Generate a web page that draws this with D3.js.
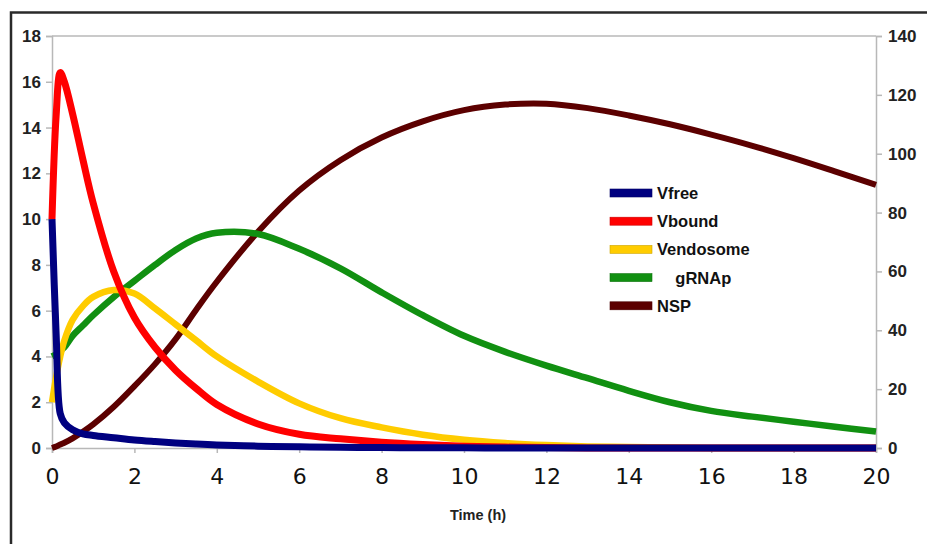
<html>
<head>
  <meta charset="utf-8">
  <script src="https://d3js.org/d3.v7.min.js"></script>
  <style type="text/css">
    body {
      margin: 0;
      background-color: #fff;
    }
    .Axis path,
    .Axis line {
      fill: none;
      stroke: #b8b8b8;
      stroke-width: 1.5;
    }
    .y-left text,
    .y-right text {
      font-family: "Liberation Sans", Arial, sans-serif;
      font-size: 17px;
      font-weight: bold;
      fill: #222;
    }
    .x-axis text {
      font-family: "DejaVu Sans", sans-serif;
      font-size: 22px;
      fill: #111;
    }
    .axis-labels {
      font-family: "Liberation Sans", Arial, sans-serif;
      font-size: 14.5px;
      font-weight: bold;
      fill: #222;
      text-anchor: middle;
    }
    .legend text {
      font-family: "Liberation Sans", Arial, sans-serif;
      font-size: 16.5px;
      font-weight: bold;
      fill: #111;
      white-space: pre;
    }
  </style>
</head>
<body>
<script>
// hours
var time = [0, 0.1, 0.2, 0.3, 0.5, 0.75, 1, 1.5, 2, 2.5, 3, 3.5, 4, 5, 6, 7, 8, 9, 10, 11, 12, 13, 14, 15, 16, 17, 18, 19, 20];

// left axis series
var vfree     = [10, 5, 1.5, 1.1, 0.8, 0.62, 0.55, 0.45, 0.35, 0.28, 0.22, 0.17, 0.13, 0.08, 0.05, 0.03, 0.02, 0.01, 0.01, 0, 0, 0, 0, 0, 0, 0, 0, 0, 0];
var vbound    = [10, 14.5, 16.4, 16.0, 14.6, 12.6, 10.7, 7.7, 5.7, 4.4, 3.4, 2.6, 1.9, 1.05, 0.6, 0.4, 0.25, 0.15, 0.08, 0.04, 0.02, 0, 0, 0, 0, 0, 0, 0, 0];
var vendosome = [2, 3.1, 4.0, 4.7, 5.6, 6.2, 6.6, 6.9, 6.75, 6.1, 5.4, 4.7, 4.0, 2.9, 1.95, 1.3, 0.9, 0.58, 0.36, 0.22, 0.13, 0.07, 0.04, 0.02, 0, 0, 0, 0, 0];
var grnap     = [4.0, 4.1, 4.25, 4.4, 4.9, 5.35, 5.8, 6.6, 7.3, 8.0, 8.65, 9.15, 9.4, 9.35, 8.7, 7.85, 6.8, 5.8, 4.9, 4.2, 3.6, 3.05, 2.5, 2.0, 1.62, 1.37, 1.15, 0.93, 0.72];
// right axis series
var nsp       = [0, 0.5, 1.2, 1.8, 3.3, 5.5, 8, 14, 21, 28.5, 37, 47, 56.5, 73.5, 87.5, 97.8, 105.5, 111, 114.8, 116.7, 117, 115.5, 113, 110, 106.5, 102.7, 98.5, 94, 89.4];

var xTicks = [0, 2, 4, 6, 8, 10, 12, 14, 16, 18, 20];
var leftTicks = [0, 2, 4, 6, 8, 10, 12, 14, 16, 18];
var rightTicks = [0, 20, 40, 60, 80, 100, 120, 140];

var legendNames = ["Vfree", "Vbound", "Vendosome", "    gRNAp", "NSP"];
var colors = ["#000080", "#ff0000", "#ffcc00", "#119011", "#5c0000"];

var margin = {top: 36, right: 51, bottom: 96, left: 52};
var W = 927, H = 544;
var width = W - margin.left - margin.right,
    height = H - margin.top - margin.bottom;

var root = d3.select("body").append("svg")
    .attr("width", W)
    .attr("height", H);

// outer frame of the picture
root.append("rect")
    .attr("x", 11).attr("y", 12.5)
    .attr("width", W + 20).attr("height", H + 20)
    .attr("fill", "none")
    .attr("stroke", "#2a2a2a")
    .attr("stroke-width", 2.5);

var svg = root.append("g")
    .attr("transform", "translate(" + margin.left + "," + margin.top + ")");

var xScale = d3.scaleLinear().domain([0, 20]).range([0, width]);
var yLeft = d3.scaleLinear().domain([0, 18]).range([height, 0]);
var yRight = d3.scaleLinear().domain([0, 140]).range([height, 0]);

// top border of plot
svg.append("line")
    .attr("x1", 0).attr("x2", width)
    .attr("y1", 0).attr("y2", 0)
    .attr("stroke", "#b8b8b8").attr("stroke-width", 1.5);

svg.append("g")
  .attr("class", "Axis x-axis")
  .attr("transform", "translate(0," + height + ")")
  .call(d3.axisBottom(xScale).tickValues(xTicks).tickSizeOuter(0).tickSize(5).tickPadding(15));

svg.append("g")
  .attr("class", "Axis y-left")
  .call(d3.axisLeft(yLeft).tickValues(leftTicks).tickSizeOuter(0).tickSize(6).tickPadding(5));

svg.append("g")
  .attr("class", "Axis y-right")
  .attr("transform", "translate(" + width + ",0)")
  .call(d3.axisRight(yRight).tickValues(rightTicks).tickSizeOuter(0).tickSize(6).tickPadding(6));

svg.append("text")
  .attr("class", "axis-labels")
  .attr("x", 426)
  .attr("y", 484)
  .text("Time (h)");

// drawn back to front, NSP underneath
var series = [
  {values: nsp, scale: yRight, color: colors[4], w: 6},
  {values: grnap, scale: yLeft, color: colors[3], w: 6.5},
  {values: vendosome, scale: yLeft, color: colors[2], w: 6.5},
  {values: vbound, scale: yLeft, color: colors[1], w: 7},
  {values: vfree, scale: yLeft, color: colors[0], w: 7}
];

series.forEach(function(s) {
  var line = d3.line()
    .curve(d3.curveCatmullRom.alpha(0.5))
    .x(function(d, i) { return xScale(time[i]); })
    .y(function(d) { return s.scale(d); });
  svg.append("path")
    .attr("d", line(s.values))
    .attr("fill", "none")
    .attr("stroke", s.color)
    .attr("stroke-width", s.w)
    .attr("stroke-linejoin", "round");
});

// legend
var legend = root.append("g")
    .attr("class", "legend")
    .attr("transform", "translate(610,193)");

legendNames.forEach(function(name, i) {
  var g = legend.append("g").attr("transform", "translate(0," + (i * 28.2) + ")");
  g.append("rect")
    .attr("x", 0).attr("y", -4)
    .attr("width", 42).attr("height", 8)
    .attr("fill", colors[i])
    .attr("stroke", d3.color(colors[i]).darker(0.6))
    .attr("stroke-width", 0.6);
  g.append("text")
    .attr("x", 47)
    .attr("y", 6)
    .text(name);
});
</script>
</body>
</html>
